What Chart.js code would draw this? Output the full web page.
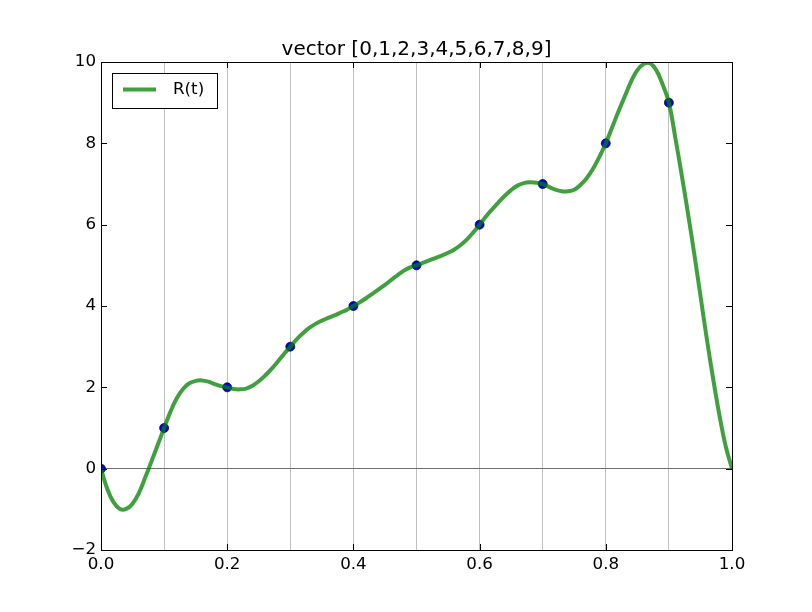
<!DOCTYPE html>
<html>
<head>
<meta charset="utf-8">
<script src="https://cdn.jsdelivr.net/npm/chart.js@4/dist/chart.umd.min.js"></script>
<style>
html,body{margin:0;padding:0;background:#fff;}
canvas{display:block;}
</style>
</head>
<body>
<canvas id="c" width="812" height="612"></canvas>
<script>
// Curve R(t)
const curveT = [0.00,0.01,0.02,0.03,0.04,0.05,0.06,0.07,0.08,0.09,
  0.10,0.11,0.12,0.13,0.14,0.15,0.16,0.17,0.18,0.19,
  0.20,0.21,0.22,0.23,0.24,0.25,0.26,0.27,0.28,0.29,
  0.30,0.31,0.32,0.33,0.34,0.35,0.36,0.37,0.38,0.39,
  0.40,0.41,0.42,0.43,0.44,0.45,0.46,0.47,0.48,0.49,
  0.50,0.51,0.52,0.53,0.54,0.55,0.56,0.57,0.58,0.59,
  0.60,0.61,0.62,0.63,0.64,0.65,0.66,0.67,0.68,0.69,
  0.70,0.71,0.72,0.73,0.74,0.75,0.76,0.77,0.78,0.79,
  0.80,0.81,0.82,0.83,0.84,0.85,0.86,0.87,0.88,0.89,
  0.90,0.91,0.92,0.93,0.94,0.95,0.96,0.97,0.98,0.99,1.00];
const curveR = [0.00,-0.50,-0.83,-0.99,-0.99,-0.86,-0.60,-0.22,0.18,0.59,
  1.00,1.40,1.73,1.96,2.10,2.16,2.17,2.14,2.08,2.03,
  2.00,1.96,1.95,1.97,2.04,2.15,2.29,2.45,2.63,2.82,
  3.00,3.18,3.33,3.46,3.56,3.64,3.71,3.77,3.84,3.91,
  4.00,4.09,4.19,4.30,4.41,4.52,4.64,4.76,4.87,4.95,
  5.00,5.06,5.12,5.18,5.24,5.31,5.39,5.50,5.64,5.81,
  6.00,6.20,6.38,6.55,6.71,6.85,6.96,7.02,7.04,7.03,
  7.00,6.93,6.86,6.82,6.82,6.86,6.98,7.15,7.38,7.67,
  8.00,8.39,8.78,9.15,9.52,9.80,9.95,9.97,9.80,9.45,
  9.00,8.15,7.25,6.30,5.30,4.25,3.20,2.22,1.32,0.55,0.00];
// Sample vector
const sampleT = [0.0,0.1,0.2,0.3,0.4,0.5,0.6,0.7,0.8,0.9];
const sampleV = [0,1,2,3,4,5,6,7,8,9];
// Axes
const xTickValues = [0.0,0.2,0.4,0.6,0.8,1.0];
const xTickLabels = ['0.0','0.2','0.4','0.6','0.8','1.0'];
const xGridValues = [0.1,0.2,0.3,0.4,0.5,0.6,0.7,0.8,0.9];
const yTickValues = [-2,0,2,4,6,8,10];
const yTickLabels = ['\u22122','0','2','4','6','8','10'];
const titleText = 'vector [0,1,2,3,4,5,6,7,8,9]';
const seriesLabel = 'R(t)';

const FONT = 'DejaVu Sans';
const lineColor = 'rgba(0,128,0,0.75)';
const near = (a,b) => Math.abs(a-b) < 1e-6;

const frameAndTicks = {
  id: 'frameAndTicks',
  afterDatasetsDraw(chart) {
    const ctx = chart.ctx, a = chart.chartArea;
    const xs = chart.scales.x, ys = chart.scales.y;
    ctx.save();
    ctx.strokeStyle = '#000';
    ctx.lineWidth = 1;
    const L = 6;
    ctx.beginPath();
    xTickValues.forEach(v => {
      const px = Math.round(xs.getPixelForValue(v)) + 0.5;
      ctx.moveTo(px, a.bottom); ctx.lineTo(px, a.bottom - L);
      ctx.moveTo(px, a.top); ctx.lineTo(px, a.top + L);
    });
    yTickValues.forEach(v => {
      const py = Math.round(ys.getPixelForValue(v)) + 0.5;
      ctx.moveTo(a.left, py); ctx.lineTo(a.left + L, py);
      ctx.moveTo(a.right, py); ctx.lineTo(a.right - L, py);
    });
    ctx.stroke();
    ctx.strokeRect(Math.round(a.left)+0.5, Math.round(a.top)+0.5,
                   Math.round(a.right - a.left), Math.round(a.bottom - a.top));
    // legend
    const ds = chart.data.datasets[0];
    const bx = a.left + 11, by = a.top + 11, bw = 105, bh = 35;
    ctx.fillStyle = '#fff';
    ctx.fillRect(bx, by, bw, bh);
    ctx.strokeStyle = '#000';
    ctx.strokeRect(Math.round(bx)+0.5, Math.round(by)+0.5, bw, bh);
    ctx.strokeStyle = ds.borderColor;
    ctx.lineWidth = ds.borderWidth;
    ctx.beginPath();
    ctx.moveTo(bx + 11, by + 16.5);
    ctx.lineTo(bx + 44, by + 16.5);
    ctx.stroke();
    ctx.fillStyle = '#000';
    ctx.font = '16.7px "' + FONT + '"';
    ctx.textBaseline = 'middle';
    ctx.textAlign = 'left';
    ctx.fillText(ds.label, bx + 61, by + 17);
    ctx.restore();
  }
};

new Chart(document.getElementById('c'), {
  type: 'scatter',
  data: {
    datasets: [
      {
        label: seriesLabel,
        data: curveT.map((t,i) => ({x:t, y:curveR[i]})),
        showLine: true,
        borderColor: lineColor,
        backgroundColor: lineColor,
        borderWidth: 4,
        pointRadius: 0,
        tension: 0.4,
        borderCapStyle: 'butt'
      },
      {
        label: 'samples',
        data: sampleT.map((t,i) => ({x:t, y:sampleV[i]})),
        showLine: false,
        pointRadius: 4.5,
        pointBackgroundColor: '#0000ff',
        pointBorderColor: '#000000',
        pointBorderWidth: 0.7
      }
    ]
  },
  options: {
    responsive: false,
    animation: false,
    layout: { padding: { left: 0, right: 80, top: 0, bottom: 0 } },
    plugins: {
      legend: { display: false },
      tooltip: { enabled: false },
      title: {
        display: true,
        text: titleText,
        fullSize: false,
        color: '#000',
        font: { family: FONT, size: 20, weight: 'normal' },
        padding: { top: 38, bottom: 0 }
      }
    },
    scales: {
      x: {
        type: 'linear',
        min: 0, max: 1,
        afterFit(s) { s.height = 62; },
        afterBuildTicks(s) {
          const vals = [0].concat(xGridValues, [1]);
          s.ticks = vals.map(v => ({value: v}));
        },
        ticks: {
          autoSkip: false,
          maxRotation: 0,
          color: '#000',
          padding: 5,
          font: { family: FONT, size: 16.7 },
          callback(v) {
            const i = xTickValues.findIndex(t => near(t, v));
            return i >= 0 ? xTickLabels[i] : '';
          }
        },
        grid: {
          drawTicks: false,
          lineWidth: 1,
          color(c) {
            const v = c.tick ? c.tick.value : null;
            return (v !== null && xGridValues.some(g => near(g, v))) ? '#bfbfbf' : 'rgba(0,0,0,0)';
          }
        },
        border: { color: '#000', width: 1 }
      },
      y: {
        type: 'linear',
        min: -2, max: 10,
        afterFit(s) { s.width = 101; },
        afterBuildTicks(s) {
          s.ticks = yTickValues.map(v => ({value: v}));
        },
        ticks: {
          color: '#000',
          padding: 5,
          font: { family: FONT, size: 16.7 },
          callback(v) {
            const i = yTickValues.findIndex(t => near(t, v));
            return i >= 0 ? yTickLabels[i] : '';
          }
        },
        grid: {
          drawTicks: false,
          lineWidth: 1,
          color(c) {
            return (c.tick && near(c.tick.value, 0)) ? '#6e6e6e' : 'rgba(0,0,0,0)';
          }
        },
        border: { color: '#000', width: 1 }
      }
    }
  },
  plugins: [frameAndTicks]
});
</script>
</body>
</html>
